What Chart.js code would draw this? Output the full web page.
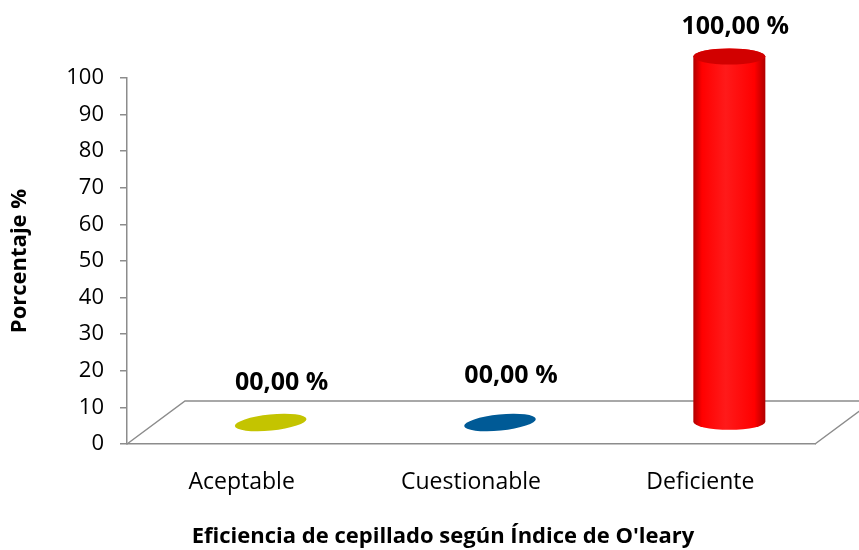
<!DOCTYPE html>
<html>
<head>
<meta charset="utf-8">
<script src="https://cdn.jsdelivr.net/npm/chart.js@4"></script>
<style>
  html, body { margin: 0; padding: 0; background: #fff; }
  #wrap { width: 859px; height: 550px; }
</style>
</head>
<body>
<div id="wrap"><canvas id="chart"></canvas></div>
<script>
// data
const categories = ['Aceptable', 'Cuestionable', 'Deficiente'];
const percentages = [0, 0, 100];
const valueLabels = ['00,00 %', '00,00 %', '100,00 %'];
const barColors = [
  { base: '#c4c400', dark: '#a8a800', light: '#d6d610', top: '#b8b800' },
  { base: '#005a96', dark: '#004a7c', light: '#0a6aaa', top: '#005188' },
  { base: '#ff0000', dark: '#b00000', light: '#ff1a1a', top: '#d20000' }
];
const xTitle = "Eficiencia de cepillado según Índice de O'leary";
const yTitle = 'Porcentaje %';

const FONT = "'Open Sans'";

// 3D floor depth (Excel style)
const depthX = 58, depthY = 43;
// label nudges relative to the bar top (manual placement in the original)
const labelNudge = [[40, -61], [40, -68], [35, -51]];

const floorPlugin = {
  id: 'floor',
  beforeDatasetsDraw(chart) {
    const { ctx, chartArea: a } = chart;
    ctx.save();
    ctx.strokeStyle = '#8c8c8c';
    ctx.lineWidth = 1.5;
    ctx.beginPath();
    ctx.moveTo(a.left, a.bottom);
    ctx.lineTo(a.left + depthX, a.bottom - depthY);
    ctx.lineTo(a.right + depthX, a.bottom - depthY);
    ctx.lineTo(a.right, a.bottom);
    ctx.stroke();
    ctx.restore();
  }
};

const cylinderPlugin = {
  id: 'cylinders',
  afterDatasetsDraw(chart) {
    const ctx = chart.ctx;
    const meta = chart.getDatasetMeta(0);
    const rx = 36, ry = 8;
    ctx.save();
    meta.data.forEach((bar, i) => {
      const c = barColors[i];
      const cx = bar.x + depthX / 2;
      const top = bar.y - depthY / 2;
      const bottom = bar.base - depthY / 2;
      if (bottom - top < 1) {
        // flat disc for zero values
        ctx.beginPath();
        ctx.ellipse(cx, bottom, rx, ry, -0.1, 0, Math.PI * 2);
        ctx.fillStyle = c.base;
        ctx.fill();
        return;
      }
      const g = ctx.createLinearGradient(cx - rx, 0, cx + rx, 0);
      g.addColorStop(0, c.dark);
      g.addColorStop(0.12, c.base);
      g.addColorStop(0.45, c.light);
      g.addColorStop(0.85, c.base);
      g.addColorStop(1, c.dark);
      ctx.beginPath();
      ctx.moveTo(cx - rx, top);
      ctx.lineTo(cx - rx, bottom);
      ctx.ellipse(cx, bottom, rx, ry, 0, Math.PI, 0, true);
      ctx.lineTo(cx + rx, top);
      ctx.ellipse(cx, top, rx, ry, 0, 0, Math.PI, true);
      ctx.closePath();
      ctx.fillStyle = g;
      ctx.fill();
      ctx.beginPath();
      ctx.ellipse(cx, top, rx, ry, 0, 0, Math.PI * 2);
      ctx.fillStyle = c.top;
      ctx.fill();
    });
    ctx.restore();
  },
  afterDraw(chart) {
    const ctx = chart.ctx;
    const meta = chart.getDatasetMeta(0);
    ctx.save();
    ctx.fillStyle = '#000';
    ctx.textAlign = 'center';
    ctx.textBaseline = 'middle';
    ctx.font = 'bold 25px ' + FONT;
    meta.data.forEach((bar, i) => {
      ctx.fillText(valueLabels[i], bar.x + labelNudge[i][0], bar.y + labelNudge[i][1]);
    });
    ctx.font = 'bold 22px ' + FONT;
    ctx.fillText(xTitle, 443, 537);
    ctx.restore();
  }
};

document.addEventListener('DOMContentLoaded', () => {
  const ctx = document.getElementById('chart').getContext('2d');
  new Chart(ctx, {
    type: 'bar',
    data: {
      labels: categories,
      datasets: [{
        data: percentages,
        backgroundColor: 'rgba(0,0,0,0)',
        borderWidth: 0
      }]
    },
    options: {
      responsive: true,
      maintainAspectRatio: false,
      animation: false,
      layout: { padding: { top: 78, right: 44, left: 0, bottom: 0 } },
      plugins: {
        legend: { display: false },
        tooltip: { enabled: false }
      },
      scales: {
        x: {
          ticks: { color: '#000', font: { family: FONT, size: 23 }, padding: 25 },
          grid: { display: false, drawTicks: false },
          border: { color: '#8c8c8c', width: 1.5 },
          afterFit(scale) { scale.height = 106; }
        },
        y: {
          min: 0,
          max: 100,
          ticks: { stepSize: 10, color: '#000', font: { family: FONT, size: 22 }, padding: 16 },
          grid: { drawOnChartArea: false, tickLength: 7, color: '#8c8c8c', lineWidth: 1.5 },
          border: { color: '#8c8c8c', width: 1.5 },
          title: {
            display: true,
            text: yTitle,
            color: '#000',
            font: { family: FONT, size: 22, weight: 'bold' },
            padding: { top: 7, bottom: 0 }
          },
          afterFit(scale) { scale.width = 127; }
        }
      }
    },
    plugins: [floorPlugin, cylinderPlugin]
  });
});
</script>
</body>
</html>
